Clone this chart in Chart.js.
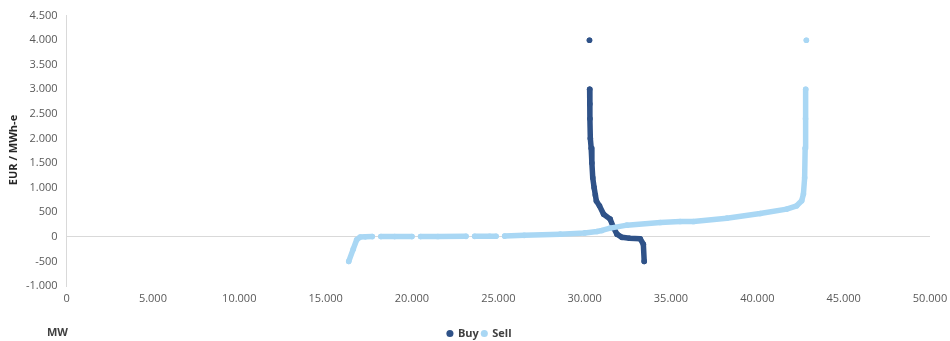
<!DOCTYPE html>
<html>
<head>
<meta charset="utf-8">
<script src="https://cdn.jsdelivr.net/npm/chart.js@4"></script>
<style>
  html, body { margin: 0; padding: 0; background: #fff; }
  #wrap { width: 950px; height: 341px; position: relative; }
</style>
</head>
<body>
<div id="wrap"><canvas id="chart"></canvas></div>
<script>
// Buy curve (MW, EUR/MWh-e); null price = break between the outlier and the curve
const buyMW    = [30280, 30280, 30290, 30300, 30310, 30330, 30380, 30420, 30470, 30550, 30620, 30680, 30860, 31100, 31480, 31670, 31870, 32160, 32600, 33220, 33400, 33450];
const buyPrice = [4000,  null,  3000,  2700,  2400,  2000,  1800,  1500,  1200,  1000,  850,   730,   630,   460,   360,   190,   55,    -10,   -30,   -40,   -150,  -500];

// Sell curve; null price = small gaps seen in the flat part
const sellMW    = [16340, 16600, 16800, 17000, 17300, 17700, 17950, 18200, 19000, 20000, 20250, 20500, 21500, 23130, 23380, 23630, 24500, 24870, 25120, 25370, 26500, 28590, 30000, 30710, 31000, 31480, 32450, 34380, 35530, 36300, 38230, 40160, 41700, 42280, 42570, 42670, 42740, 42770, 42790, 42805, 42840, 42840];
const sellPrice = [-500,  -250,  -60,   -5,    0,     5,     null,  5,     5,     5,     null,  5,     8,     10,    null,  10,    12,    12,    null,  15,    30,    55,    80,    108,   130,   177,   238,   291,   311,   311,   380,   475,   564,   631,   733,   869,   1200,  1800,  2400,  3000,  null,  4000];

const xTicks = [0, 5000, 10000, 15000, 20000, 25000, 30000, 35000, 40000, 45000, 50000];
const yTicks = [-1000, -500, 0, 500, 1000, 1500, 2000, 2500, 3000, 3500, 4000, 4500];

function fmt(v) {
    return String(v).replace(/\B(?=(\d{3})+(?!\d))/g, '.');
}

function toPoints(xs, ys) {
    return xs.map(function(x, i) { return { x: x, y: ys[i] }; });
}

const tickFont = { family: 'Open Sans', size: 11 };
const boldFont = { family: 'Open Sans', size: 11, weight: 'bold' };

// axis titles drawn by hand: "MW" sits on the legend line, y title at the far left
const axisTitles = {
    id: 'axisTitles',
    afterLayout: function(chart) {
        // legend sits a bit lower and right of centre in the original
        chart.legend.left += 6;
        chart.legend.right += 6;
        chart.legend.top += 8;
        chart.legend.bottom += 8;
    },
    afterDraw: function(chart) {
        const ctx = chart.ctx;
        ctx.save();
        ctx.font = 'bold 11px "Open Sans"';
        ctx.fillStyle = '#404040';
        ctx.textBaseline = 'middle';
        ctx.fillText('MW', 47, 333);
        ctx.translate(14, 150);
        ctx.rotate(-Math.PI / 2);
        ctx.textAlign = 'center';
        ctx.fillStyle = '#262626';
        ctx.fillText('EUR / MWh-e', 0, 0);
        ctx.restore();
    }
};

new Chart(document.getElementById('chart'), {
    type: 'scatter',
    data: {
        datasets: [
            {
                label: 'Buy',
                data: toPoints(buyMW, buyPrice),
                backgroundColor: '#2f5288',
                borderColor: '#2f5288',
                pointRadius: 2.8,
                pointBorderWidth: 0,
                borderWidth: 5.5,
                showLine: true,
                spanGaps: false,
                borderCapStyle: 'round',
                borderJoinStyle: 'round',
                order: 1
            },
            {
                label: 'Sell',
                data: toPoints(sellMW, sellPrice),
                backgroundColor: '#a9d7f4',
                borderColor: '#a9d7f4',
                pointRadius: 2.8,
                pointBorderWidth: 0,
                borderWidth: 5.5,
                showLine: true,
                spanGaps: false,
                borderCapStyle: 'round',
                borderJoinStyle: 'round',
                order: 0
            }
        ]
    },
    options: {
        responsive: true,
        maintainAspectRatio: false,
        animation: false,
        events: [],
        layout: { padding: { left: 17, right: 20, top: 8, bottom: 0 } },
        scales: {
            x: {
                type: 'linear',
                min: 0,
                max: 50000,
                afterBuildTicks: function(scale) {
                    scale.ticks = xTicks.map(function(v) { return { value: v }; });
                },
                afterFit: function(scale) {
                    scale.height = 31;
                    scale.paddingRight = 0;
                },
                grid: { display: false, drawTicks: false },
                border: { display: false },
                ticks: {
                    padding: 6,
                    color: '#595959',
                    font: tickFont,
                    maxRotation: 0,
                    callback: function(v) { return fmt(v); }
                }
            },
            y: {
                type: 'linear',
                min: -1000,
                max: 4500,
                afterBuildTicks: function(scale) {
                    scale.ticks = yTicks.map(function(v) { return { value: v }; });
                },
                grid: {
                    drawTicks: false,
                    lineWidth: 1,
                    color: function(c) { return c.tick && c.tick.value === 0 ? '#d9d9d9' : 'rgba(0,0,0,0)'; }
                },
                border: { display: true, color: '#d9d9d9' },
                ticks: {
                    padding: 9,
                    color: '#595959',
                    font: tickFont,
                    callback: function(v) { return fmt(v); }
                }
            }
        },
        plugins: {
            legend: {
                position: 'bottom',
                labels: {
                    usePointStyle: true,
                    pointStyle: 'circle',
                    boxWidth: 5,
                    boxHeight: 5,
                    padding: 3,
                    color: '#404040',
                    font: boldFont,
                    sort: function(a, b) { return a.datasetIndex - b.datasetIndex; }
                }
            },
            tooltip: { enabled: false }
        }
    },
    plugins: [axisTitles]
});
</script>
</body>
</html>
